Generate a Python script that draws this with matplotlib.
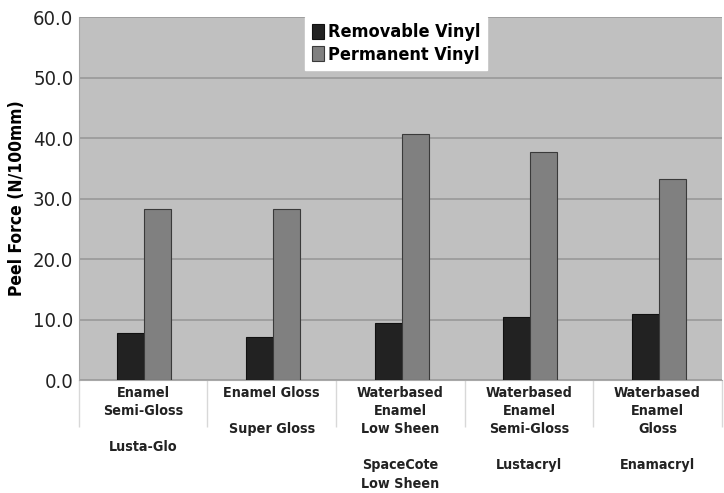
import numpy as np
import matplotlib
matplotlib.use('Agg')
import matplotlib.pyplot as plt

# data
categories = [
    "Enamel\nSemi-Gloss\n\nLusta-Glo",
    "Enamel Gloss\n\nSuper Gloss",
    "Waterbased\nEnamel\nLow Sheen\n\nSpaceCote\nLow Sheen",
    "Waterbased\nEnamel\nSemi-Gloss\n\nLustacryl",
    "Waterbased\nEnamel\nGloss\n\nEnamacryl",
]
removable = [7.8, 7.2, 9.4, 10.4, 10.9]
permanent = [28.3, 28.2, 40.7, 37.7, 33.3]
y_ticks = [0, 10, 20, 30, 40, 50, 60]

plt.rcParams['font.family'] = ['DejaVu Sans']

fig = plt.figure(figsize=(7.24, 4.93), dpi=100)
ax = fig.add_axes([0.109, 0.229, 0.888, 0.7365])

x = np.arange(len(categories))
w = 0.21
ax.bar(x - w / 2 + 0.01, removable, w, color='#222222', edgecolor='#111111',
       linewidth=0.8, label='Removable Vinyl', zorder=3)
ax.bar(x + w / 2 + 0.01, permanent, w, color='#808080', edgecolor='#3a3a3a',
       linewidth=0.8, label='Permanent Vinyl', zorder=3)

ax.set_facecolor('#c0c0c0')
ax.set_xlim(-0.5, len(categories) - 0.5)
ax.set_ylim(0, 60)
ax.set_yticks(y_ticks)
ax.set_yticklabels([f'{v:.1f}' for v in y_ticks], fontsize=14.5,
                   fontstretch='condensed')
ax.yaxis.grid(True, color='#999999', linewidth=1.2, zorder=0)
ax.tick_params(axis='y', length=0, pad=4, colors='#222222')

ax.set_xticks(x)
ax.set_xticklabels(categories, fontsize=10.3, fontweight='bold',
                   fontstretch='condensed', linespacing=1.38, va='top')
ax.set_xticks(np.arange(len(categories) + 1) - 0.5, minor=True)
ax.tick_params(axis='x', which='major', length=0, pad=4, colors='#222222')
ax.tick_params(axis='x', which='minor', length=34, width=1.0, color='#d8d8d8')

for s in ['top', 'right']:
    ax.spines[s].set_visible(False)
ax.spines['left'].set_color('#a8a8a8')
ax.spines['bottom'].set_color('#a8a8a8')

ax.set_ylabel('Peel Force (N/100mm)', fontsize=12.5, fontweight='bold',
              fontstretch='condensed', labelpad=5)

leg = ax.legend(loc='upper left', bbox_to_anchor=(0.352, 1.0),
                prop={'weight': 'bold', 'size': 13, 'stretch': 'condensed'},
                frameon=True, fancybox=False,
                edgecolor='white', framealpha=1.0, handlelength=0.7,
                handleheight=0.9, handletextpad=0.2, borderpad=0.35,
                labelspacing=0.25, borderaxespad=0)
# the reference box is a bit wider than the text, with room on the left
leg._legend_box.align = 'left'

fig.savefig('out.png', dpi=100)
